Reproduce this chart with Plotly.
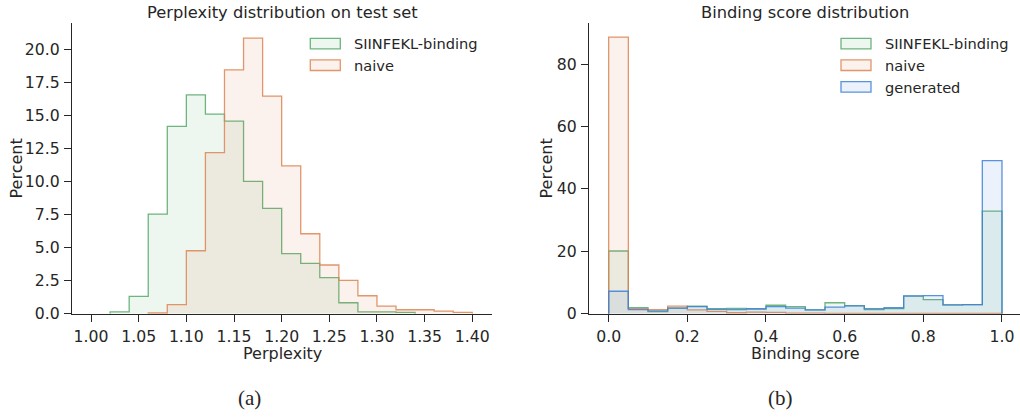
import plotly.graph_objects as go

# ---------------- data ----------------
# (a) Perplexity histogram, bin edges 1.00 .. 1.40 step 0.02
perp_edges = [round(1.00 + 0.02 * i, 2) for i in range(21)]
perp_siinfekl = [0.0, 0.13, 1.31, 7.55, 14.19, 16.59, 15.13, 14.6, 10.03, 7.98,
                 4.55, 3.81, 2.73, 0.83, 0.13, 0.13, 0.1, 0.0, 0.0, 0.0]
perp_naive = [0.0, 0.0, 0.0, 0.05, 0.68, 4.77, 12.2, 18.48, 20.88, 16.49,
              11.21, 6.06, 3.69, 2.53, 1.36, 0.58, 0.3, 0.3, 0.2, 0.1]
perp_ticks = [1.00, 1.05, 1.10, 1.15, 1.20, 1.25, 1.30, 1.35, 1.40]
perp_ytick = [0.0, 2.5, 5.0, 7.5, 10.0, 12.5, 15.0, 17.5, 20.0]

# (b) Binding score histogram, bin edges 0.00 .. 1.00 step 0.05
bind_edges = [round(0.05 * i, 2) for i in range(21)]
bind_siinfekl = [20.1, 1.9, 0.65, 1.8, 2.4, 1.6, 1.7, 1.6, 2.7, 2.25,
                 1.2, 3.5, 2.6, 1.3, 1.6, 5.6, 4.5, 2.8, 2.9, 32.9]
bind_naive = [88.7, 1.6, 1.3, 2.4, 1.2, 0.75, 0.3, 0.5, 0.4, 0.2,
              0.15, 0.12, 0.12, 0.1, 0.1, 0.1, 0.1, 0.1, 0.1, 0.1]
bind_generated = [7.2, 1.3, 0.9, 1.8, 2.25, 1.4, 1.3, 1.5, 2.25, 1.8,
                  1.2, 2.1, 2.5, 1.6, 1.9, 5.7, 5.8, 2.8, 2.9, 49.1]
bind_ticks = [0.0, 0.2, 0.4, 0.6, 0.8, 1.0]
bind_ytick = [0, 20, 40, 60, 80]

series_names = ["SIINFEKL-binding", "naive", "generated"]

# ---------------- style ----------------
GREEN = (85, 168, 104)
ORANGE = (221, 132, 82)
BLUE = (61, 127, 217)
INK = "#262626"
SANS = "DejaVu Sans"


def rgba(c, a):
    return "rgba(%d,%d,%d,%s)" % (c[0], c[1], c[2], a)


def step_xy(edges, vals):
    xs = [edges[0]]
    ys = [0]
    for i, v in enumerate(vals):
        xs.append(edges[i])
        ys.append(v)
    xs.append(edges[-1])
    ys.append(vals[-1])
    xs.append(edges[-1])
    ys.append(0)
    return xs, ys


def trim(edges, vals):
    lo = 0
    while lo < len(vals) and vals[lo] == 0:
        lo += 1
    hi = len(vals)
    while hi > lo and vals[hi - 1] == 0:
        hi -= 1
    return edges[lo:hi + 1], vals[lo:hi]


fig = go.Figure()


def add_hist(edges, vals, color, name, xa, ya):
    e, v = trim(edges, vals)
    xs, ys = step_xy(e, v)
    fig.add_trace(go.Scatter(
        x=xs, y=ys, mode="lines", line=dict(shape="hv", color=rgba(color, 0.85), width=1.3),
        fill="toself", fillcolor=rgba(color, 0.1), name=name, showlegend=False,
        xaxis=xa, yaxis=ya, hoverinfo="skip"))


add_hist(perp_edges, perp_siinfekl, GREEN, series_names[0], "x", "y")
add_hist(perp_edges, perp_naive, ORANGE, series_names[1], "x", "y")
add_hist(bind_edges, bind_siinfekl, GREEN, series_names[0], "x2", "y2")
add_hist(bind_edges, bind_naive, ORANGE, series_names[1], "x2", "y2")
add_hist(bind_edges, bind_generated, BLUE, series_names[2], "x2", "y2")

# effective drawing area height observed in the photographed viewport
W, H = 1020, 409.5


def px(x):
    return x / W


def py(y):
    return 1 - y / H


axis_common = dict(showline=True, linecolor=INK, linewidth=1.25, ticks="outside",
                   ticklen=7, tickwidth=1.25, tickcolor=INK, showgrid=False,
                   zeroline=False, ticklabelstandoff=1,
                   tickfont=dict(family=SANS, size=15.7, color=INK))

fig.update_layout(
    autosize=True,
    margin=dict(l=0, r=0, t=0, b=0),
    paper_bgcolor="white", plot_bgcolor="white",
    xaxis=dict(domain=[px(72), px(492)], range=[0.98, 1.4207], tickvals=perp_ticks,
               ticktext=["%.2f" % t for t in perp_ticks], anchor="y", **axis_common),
    yaxis=dict(domain=[py(313.3), py(23)], range=[0, 22.03], tickvals=perp_ytick,
               ticktext=["%.1f" % t for t in perp_ytick], anchor="x", **axis_common),
    xaxis2=dict(domain=[px(589), 1.0], range=[-0.05, 1.0458], tickvals=bind_ticks,
                ticktext=["%.1f" % t for t in bind_ticks], anchor="y2", **axis_common),
    yaxis2=dict(domain=[py(313.3), py(23)], range=[0, 93.2], tickvals=bind_ytick,
                ticktext=[str(t) for t in bind_ytick], anchor="x2", **axis_common),
    showlegend=False,
)

ann = []
shapes = []


def text(x, y, s, size, family=SANS, angle=0, xanchor="center"):
    ann.append(dict(x=px(x), y=py(y), xref="paper", yref="paper", text=s, showarrow=False,
                    xanchor=xanchor, yanchor="middle", textangle=angle,
                    font=dict(family=family, size=size, color=INK)))


# titles
text(282, 12.5, "Perplexity distribution on test set", 16.3)
text(805, 12.5, "Binding score distribution", 16.3)
# axis labels
text(282, 353.5, "Perplexity", 16)
text(805.5, 353.5, "Binding score", 16)
text(16.3, 168, "Percent", 16, angle=-90)
text(546.3, 168, "Percent", 16, angle=-90)
# captions
text(249, 397.5, "(a)", 21, family="Liberation Serif")
text(780, 397.5, "(b)", 21, family="Liberation Serif")


def legend(x0, y0, items):
    for i, (name, col) in enumerate(items):
        top = y0 + i * 21.6
        shapes.append(dict(type="rect", xref="paper", yref="paper",
                           x0=px(x0), x1=px(x0 + 30), y0=py(top), y1=py(top + 10.5),
                           line=dict(color=rgba(col, 0.85), width=1.3),
                           fillcolor=rgba(col, 0.1)))
        text(x0 + 42, top + 5.5, name, 14.6, xanchor="left")


legend(310.3, 38.3, [(series_names[0], GREEN), (series_names[1], ORANGE)])
legend(841, 38.3, [(series_names[0], GREEN), (series_names[1], ORANGE), (series_names[2], BLUE)])

fig.update_layout(annotations=ann, shapes=shapes)

fig.write_html(
    "out.html",
    config={"displayModeBar": False},
    default_width="100vw",
    default_height="100vh",
    post_script="document.documentElement.style.margin='0';document.body.style.margin='0';"
                "document.documentElement.style.overflow='hidden';document.body.style.overflow='hidden';"
                "var gd=document.getElementById('{plot_id}');gd.style.position='fixed';gd.style.left='0';gd.style.top='0';"
                "Plotly.Plots.resize(gd);",
)
